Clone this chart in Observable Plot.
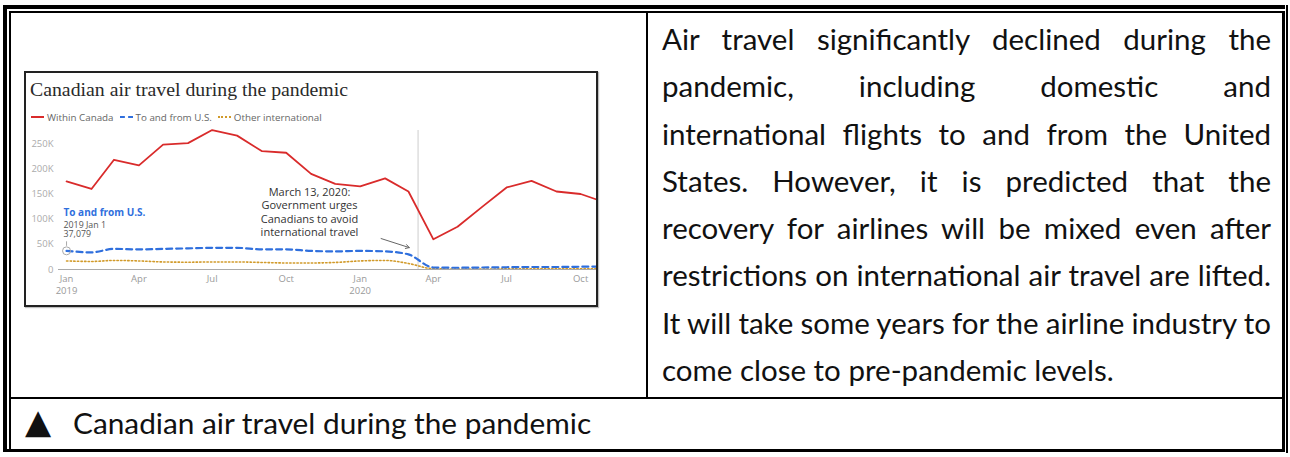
<!DOCTYPE html>
<html><head><meta charset="utf-8">
<script src="https://cdn.jsdelivr.net/npm/d3@7"></script>
<script src="https://cdn.jsdelivr.net/npm/@observablehq/plot@0.6"></script>
<style>
html,body{margin:0;padding:0;background:#fff;}
body{width:1290px;height:457px;position:relative;overflow:hidden;font-family:Lato,"Noto Sans",sans-serif;color:#111;}
.b{position:absolute;background:#000;}
#box{position:absolute;left:24px;top:71px;width:574px;height:236px;box-sizing:border-box;border:2px solid #222;z-index:3;box-shadow:1px 1px 1px rgba(0,0,0,0.25);}
#title{position:absolute;left:30px;top:80px;font-family:"Liberation Serif",serif;font-size:19.8px;line-height:19px;color:#2a2a2a;white-space:nowrap;}
#legend{position:absolute;left:31px;top:111px;height:12px;display:flex;align-items:center;font-family:"Open Sans",sans-serif;font-size:9.8px;color:#666;white-space:nowrap;z-index:2;}
#legend .sw{display:inline-block;width:13px;height:0;margin-right:3px;}
#legend .it{display:flex;align-items:center;margin-right:6px;}
#chart{position:absolute;left:25px;top:110px;z-index:1;}
#text{position:absolute;left:662px;top:15px;width:609px;font-size:29.5px;}
.ln{height:47.3px;line-height:47.3px;white-space:nowrap;}
#cap{position:absolute;left:25px;top:399px;height:47.3px;line-height:47.3px;font-size:29.8px;white-space:nowrap;}
#tri{display:inline-block;font-family:"DejaVu Sans";font-size:34px;width:48px;vertical-align:top;margin-top:-1px;}
</style></head><body>
<div class="b" style="left:3px;top:5px;width:1282px;height:4px"></div>
<div class="b" style="left:3px;top:5px;width:4px;height:447px"></div>
<div class="b" style="left:9px;top:11px;width:1274px;height:2px"></div>
<div class="b" style="left:9px;top:11px;width:2px;height:438px"></div>
<div class="b" style="left:1282px;top:11px;width:3px;height:441px"></div>
<div class="b" style="left:1286px;top:5px;width:2px;height:448px"></div>
<div class="b" style="left:3px;top:449px;width:1282px;height:3px"></div>
<div class="b" style="left:646px;top:13px;width:2px;height:385px"></div>
<div class="b" style="left:11px;top:397px;width:1271px;height:2px"></div>

<div id="box"></div>
<div id="title">Canadian air travel during the pandemic</div>
<div id="legend"></div>
<div id="chart"></div>
<div id="text"></div>
<div id="cap"><span id="tri">▲</span>Canadian air travel during the pandemic</div>

<script>
const monthKeys = ["2019-01","2019-02","2019-03","2019-04","2019-05","2019-06","2019-07","2019-08","2019-09","2019-10","2019-11","2019-12",
  "2020-01","2020-02","2020-03","2020-04","2020-05","2020-06","2020-07","2020-08","2020-09","2020-10","2020-11"];
const withinCanada = [175000,160000,218000,207000,248000,251000,277000,266000,235000,232000,190000,170000,
  165000,181000,155000,60000,85000,125000,163000,176000,155000,150000,133000];
const toFromUS = [37079,34000,41000,40000,41000,42000,43000,43000,40000,40000,37000,36000,
  37000,36000,30000,4000,3500,4000,4500,5000,5000,5500,6000];
const otherIntl = [17000,16000,18000,17000,15000,14500,15000,15000,14000,13000,13000,14000,
  17000,18000,12000,1500,1000,1000,1200,1200,1400,1500,1500];
const seriesNames = ["Within Canada","To and from U.S.","Other international"];
const seriesColors = ["#d92b2b","#2f6fdd","#d19a2a"];
const yTicks = [0,50000,100000,150000,200000,250000];
const yTickLabels = ["0","50K","100K","150K","200K","250K"];
const xTickKeys = ["2019-01-01","2019-04-01","2019-07-01","2019-10-01","2020-01-01","2020-04-01","2020-07-01","2020-10-01"];
const xTickLabels = ["Jan\n2019","Apr","Jul","Oct","Jan\n2020","Apr","Jul","Oct"];
const eventDate = "2020-03-13";
const eventNote = "March 13, 2020:\nGovernment urges\nCanadians to avoid\ninternational travel";
const calloutTitle = "To and from U.S.";
const calloutText = "2019 Jan 1\n37,079";
const paragraphLines = [
  "Air travel significantly declined during the",
  "pandemic, including domestic and",
  "international flights to and from the United",
  "States. However, it is predicted that the",
  "recovery for airlines will be mixed even after",
  "restrictions on international air travel are lifted.",
  "It will take some years for the airline industry to",
  "come close to pre-pandemic levels."
];

const parse = k => new Date(k.length === 7 ? k + "-01T00:00:00Z" : k + "T00:00:00Z");
const dates = monthKeys.map(parse);
const xTicks = xTickKeys.map(parse);
const rows = s => dates.map((d, i) => ({date: d, value: s[i]}));
const rc = rows(withinCanada), ru = rows(toFromUS), ro = rows(otherIntl);

const chart = Plot.plot({
  width: 572, height: 195,
  marginLeft: 33, marginRight: 0, marginTop: 8, marginBottom: 36,
  style: {fontFamily: "Open Sans", fontSize: "9.5px", color: "#9a9a9a", background: "transparent", overflow: "visible"},
  x: {type: "utc", domain: [new Date("2018-12-22T00:00:00Z"), new Date("2020-10-22T00:00:00Z")]},
  y: {domain: [0, 300000]},
  marks: [
    Plot.ruleX([parse(eventDate)], {y1: 0, y2: 276000, stroke: "#dedede", strokeWidth: 1.5}),
    Plot.ruleY([0], {stroke: "#aaa", strokeWidth: 1}),
    Plot.axisY({ticks: yTicks, tickFormat: d => yTickLabels[yTicks.indexOf(d)], tickSize: 0, tickPadding: 5, label: null, fill: "#ababab"}),
    Plot.axisX({ticks: xTicks, tickFormat: d => xTickLabels[xTicks.findIndex(t => +t === +d)], tickSize: 0, tickPadding: 4, label: null, lineHeight: 1.25, fill: "#9a9a9a"}),
    Plot.line(ro, {x: "date", y: "value", stroke: seriesColors[2], strokeWidth: 1.6, strokeDasharray: "1.4,2.2", curve: "monotone-x", clip: true}),
    Plot.line(ru, {x: "date", y: "value", stroke: seriesColors[1], strokeWidth: 2.2, strokeDasharray: "6,4", curve: "monotone-x", clip: true}),
    Plot.line(rc, {x: "date", y: "value", stroke: seriesColors[0], strokeWidth: 1.8, clip: true}),
    Plot.dot([ru[0]], {x: "date", y: "value", r: 4, stroke: "#aaa", strokeWidth: 1, fill: "none"}),
    Plot.ruleX([ru[0]], {x: "date", y1: 46000, y2: 55000, stroke: "#aaa", strokeWidth: 1}),
    Plot.text([ru[0]], {x: "date", y: "value", text: () => calloutTitle, textAnchor: "start", dx: -3, dy: -38, fill: seriesColors[1], fontWeight: "bold", fontSize: 10, fontFamily: "Open Sans"}),
    Plot.text([ru[0]], {x: "date", y: "value", text: () => calloutText, textAnchor: "start", lineAnchor: "top", lineHeight: 1.1, dx: -3, dy: -30, fill: "#555", fontSize: 8.8, fontFamily: "Open Sans"}),
    Plot.text([eventNote], {x: new Date("2019-10-30T00:00:00Z"), y: 115000, text: d => d, textAnchor: "middle", lineAnchor: "middle", lineHeight: 1.22, fill: "#333", fontSize: 11, fontFamily: "Open Sans"}),
    Plot.arrow([0], {x1: new Date("2020-01-27T00:00:00Z"), y1: 61500, x2: new Date("2020-03-02T00:00:00Z"), y2: 43500, stroke: "#666", strokeWidth: 1, headLength: 6, bend: 0})
  ]
});
document.getElementById("chart").append(chart);

const legend = document.getElementById("legend");
const swStyles = ["2px solid " + seriesColors[0], "2px dashed " + seriesColors[1], "2px dotted " + seriesColors[2]];
seriesNames.forEach((n, i) => {
  const it = document.createElement("span"); it.className = "it";
  const sw = document.createElement("span"); sw.className = "sw"; sw.style.borderTop = swStyles[i];
  it.append(sw, document.createTextNode(n));
  legend.append(it);
});

const textBox = document.getElementById("text");
const W = 609;
paragraphLines.forEach((line, i) => {
  const div = document.createElement("div"); div.className = "ln";
  const span = document.createElement("span"); span.textContent = line;
  div.append(span); textBox.append(div);
  if (i < paragraphLines.length - 1) {
    const nat = span.getBoundingClientRect().width;
    const gaps = (line.match(/ /g) || []).length;
    if (gaps > 0) span.style.wordSpacing = ((W - nat) / gaps) + "px";
  }
});
</script>
</body></html>
